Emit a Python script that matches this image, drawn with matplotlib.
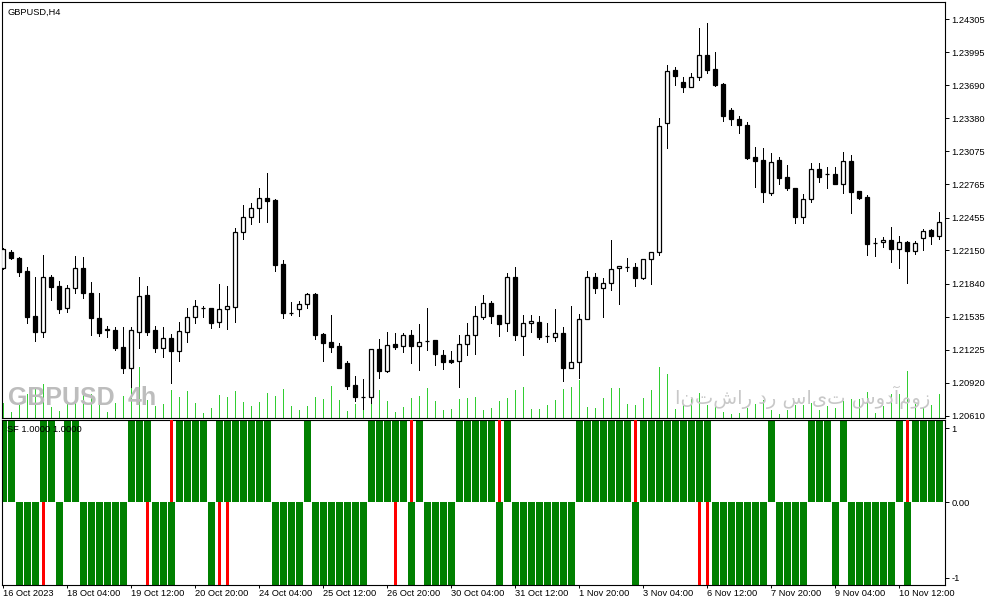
import matplotlib.pyplot as plt
import numpy as np

plt.rcParams['font.family'] = ['Liberation Sans', 'DejaVu Sans']

# GBPUSD H4 candles (one per 4 hours)
opens = [1.21984, 1.22139, 1.22077, 1.21959, 1.21540, 1.21394, 1.21900, 1.21819, 1.21612, 1.21798,
         1.21984, 1.21751, 1.21519, 1.21416, 1.21410, 1.21254, 1.21053, 1.21394, 1.21736, 1.21410,
         1.21239, 1.21338, 1.21217, 1.21388, 1.21528, 1.21617, 1.21612, 1.21481, 1.21602, 1.21627,
         1.22325, 1.22465, 1.22543, 1.22636, 1.22620, 1.22024, 1.21571, 1.21602, 1.21649, 1.21745,
         1.21372, 1.21301, 1.21261, 1.21100, 1.20898, 1.20783, 1.20783, 1.21230, 1.21031, 1.21279,
         1.21261, 1.21360, 1.21264, 1.21304, 1.21317, 1.21177, 1.21130, 1.21124, 1.21277, 1.21366,
         1.21534, 1.21658, 1.21549, 1.21472, 1.21900, 1.21357, 1.21472, 1.21481, 1.21351, 1.21347,
         1.21379, 1.21059, 1.21115, 1.21509, 1.21900, 1.21804, 1.21844, 1.21984, 1.21999, 1.21993,
         1.21897, 1.22068, 1.22133, 1.23334, 1.23830, 1.23716, 1.23675, 1.23762, 1.23970, 1.23837,
         1.23700, 1.23458, 1.23374, 1.23318, 1.23018, 1.22992, 1.22688, 1.22992, 1.22831, 1.22729,
         1.22459, 1.22627, 1.22906, 1.22862, 1.22862, 1.22766, 1.22986, 1.22704, 1.22645, 1.22222,
         1.22226, 1.22248, 1.22161, 1.22226, 1.22148, 1.22263, 1.22341, 1.22288]
highs = [1.22176, 1.22155, 1.22087, 1.21999, 1.21906, 1.22108, 1.21922, 1.21866, 1.21829, 1.22099,
         1.22087, 1.21859, 1.21751, 1.21447, 1.21440, 1.21440, 1.21440, 1.21900, 1.21819, 1.21447,
         1.21440, 1.21372, 1.21487, 1.21612, 1.21689, 1.21633, 1.21615, 1.21838, 1.21819, 1.22357,
         1.22573, 1.22592, 1.22729, 1.22874, 1.22629, 1.22061, 1.21668, 1.21680, 1.21751, 1.21751,
         1.21385, 1.21549, 1.21286, 1.21124, 1.20981, 1.20954, 1.21230, 1.21326, 1.21388, 1.21379,
         1.21379, 1.21410, 1.21466, 1.21617, 1.21317, 1.21223, 1.21214, 1.21363, 1.21478, 1.21633,
         1.21736, 1.21680, 1.21549, 1.21938, 1.21993, 1.21549, 1.21549, 1.21540, 1.21472, 1.21605,
         1.21435, 1.21633, 1.21559, 1.21959, 1.21938, 1.21891, 1.22248, 1.22006, 1.22077, 1.22031,
         1.22068, 1.22133, 1.23381, 1.23877, 1.23861, 1.23762, 1.23800, 1.24219, 1.24265, 1.23995,
         1.23706, 1.23474, 1.23402, 1.23349, 1.23111, 1.23101, 1.23055, 1.23018, 1.22946, 1.22729,
         1.22676, 1.22967, 1.22967, 1.22924, 1.22924, 1.23064, 1.23039, 1.22704, 1.22667, 1.22263,
         1.22278, 1.22366, 1.22288, 1.22238, 1.22238, 1.22347, 1.22350, 1.22511]
lows = [1.21978, 1.22068, 1.21915, 1.21478, 1.21310, 1.21347, 1.21689, 1.21571, 1.21580, 1.21757,
        1.21705, 1.21363, 1.21354, 1.21347, 1.21223, 1.21007, 1.20882, 1.21239, 1.21363, 1.21208,
        1.21161, 1.20919, 1.21124, 1.21301, 1.21478, 1.21534, 1.21426, 1.21440, 1.21416, 1.21487,
        1.22254, 1.22397, 1.22418, 1.22418, 1.21962, 1.21519, 1.21549, 1.21540, 1.21617, 1.21323,
        1.21124, 1.21208, 1.21059, 1.20860, 1.20751, 1.20674, 1.20733, 1.20966, 1.21021, 1.21233,
        1.21208, 1.21105, 1.21037, 1.21223, 1.21084, 1.21047, 1.21100, 1.20882, 1.21177, 1.21186,
        1.21512, 1.21478, 1.21357, 1.21403, 1.21317, 1.21177, 1.21394, 1.21326, 1.21301, 1.21310,
        1.20938, 1.21059, 1.20966, 1.21509, 1.21757, 1.21534, 1.21782, 1.21652, 1.21962, 1.21822,
        1.21885, 1.21838, 1.22108, 1.23105, 1.23691, 1.23628, 1.23669, 1.23737, 1.23805, 1.23684,
        1.23358, 1.23318, 1.23247, 1.22999, 1.22738, 1.22604, 1.22667, 1.22766, 1.22713, 1.22403,
        1.22409, 1.22604, 1.22790, 1.22729, 1.22766, 1.22682, 1.22502, 1.22627, 1.22108, 1.22101,
        1.22180, 1.22046, 1.21990, 1.21850, 1.22114, 1.22155, 1.22210, 1.22257]
closes = [1.22161, 1.22077, 1.21953, 1.21534, 1.21394, 1.21900, 1.21813, 1.21605, 1.21798, 1.21984,
          1.21751, 1.21519, 1.21385, 1.21412, 1.21245, 1.21053, 1.21410, 1.21726, 1.21394, 1.21245,
          1.21338, 1.21217, 1.21400, 1.21534, 1.21633, 1.21612, 1.21478, 1.21602, 1.21633, 1.22325,
          1.22459, 1.22543, 1.22636, 1.22611, 1.22015, 1.21571, 1.21568, 1.21649, 1.21742, 1.21363,
          1.21291, 1.21254, 1.21059, 1.20891, 1.20783, 1.20786, 1.21230, 1.21031, 1.21267, 1.21254,
          1.21360, 1.21264, 1.21295, 1.21307, 1.21186, 1.21115, 1.21115, 1.21277, 1.21360, 1.21537,
          1.21658, 1.21543, 1.21466, 1.21900, 1.21363, 1.21472, 1.21493, 1.21347, 1.21349, 1.21379,
          1.21059, 1.21115, 1.21509, 1.21900, 1.21804, 1.21844, 1.21975, 1.22006, 1.21997, 1.21897,
          1.22068, 1.22133, 1.23312, 1.23824, 1.23774, 1.23675, 1.23768, 1.23970, 1.23830, 1.23691,
          1.23405, 1.23371, 1.23318, 1.23014, 1.22986, 1.22697, 1.22971, 1.22828, 1.22735, 1.22465,
          1.22627, 1.22906, 1.22837, 1.22860, 1.22766, 1.22986, 1.22697, 1.22641, 1.22208, 1.22220,
          1.22248, 1.22161, 1.22226, 1.22148, 1.22217, 1.22334, 1.22288, 1.22418]
volumes = [2940, 1200, 2600, 4740, 5940, 6800, 2140, 1400, 3260, 5600,
           5140, 4800, 3600, 1200, 2940, 4400, 5940, 10260, 3600, 2400,
           2800, 5600, 4260, 5400, 3060, 940, 1940, 4600, 4260, 5400,
           3260, 2400, 3260, 5060, 4400, 5800, 2400, 1600, 2400, 4260,
           3800, 6400, 3600, 1460, 2800, 1800, 2940, 5600, 3400, 1260,
           2140, 4000, 4400, 6000, 3400, 1600, 1800, 3800, 4000, 4200,
           1600, 2000, 3400, 4000, 5600, 6200, 1800, 1800, 2600, 3600,
           5800, 6200, 7600, 2200, 2000, 4000, 6000, 6000, 2800, 2600,
           4000, 5600, 10260, 8800, 1800, 2600, 3800, 5000, 2600, 3060,
           1200, 740, 1000, 2000, 2800, 3600, 1600, 800, 1600, 2600,
           2600, 2940, 1600, 2400, 2000, 3400, 3800, 3800, 5140, 940,
           2400, 4800, 4800, 9400, 2800, 2000, 2600, 4800]

# SF indicator: main histogram and the red marks
sf_main = [1, 1, -1, -1, -1, 1, 1, -1, 1, 1,
           -1, -1, -1, -1, -1, -1, 1, 1, 1, -1,
           -1, -1, 1, 1, 1, 1, -1, 1, 1, 1,
           1, 1, 1, 1, -1, -1, -1, -1, 1, -1,
           -1, -1, -1, -1, -1, -1, 1, 1, 1, 1,
           1, -1, 1, -1, -1, -1, -1, 1, 1, 1,
           1, 1, -1, 1, -1, -1, -1, -1, -1, -1,
           -1, -1, 1, 1, 1, 1, 1, 1, 1, -1,
           1, 1, 1, 1, 1, 1, 1, 1, 1, -1,
           -1, -1, -1, -1, -1, -1, 1, -1, -1, -1,
           -1, 1, 1, 1, -1, 1, -1, -1, -1, -1,
           -1, -1, 1, -1, 1, 1, 1, 1]
sf_red = {5: -1, 18: -1, 21: 1, 27: -1, 28: -1, 49: -1, 51: 1,
          62: 1, 79: 1, 87: -1, 88: -1, 113: 1}

date_labels = ['16 Oct 2023', '18 Oct 04:00', '19 Oct 12:00', '20 Oct 20:00',
               '24 Oct 04:00', '25 Oct 12:00', '26 Oct 20:00', '30 Oct 04:00',
               '31 Oct 12:00', '1 Nov 20:00', '3 Nov 04:00', '6 Nov 12:00',
               '7 Nov 20:00', '9 Nov 04:00', '10 Nov 12:00']
price_ticks = [1.24305, 1.23995, 1.23690, 1.23380, 1.23075, 1.22765, 1.22455,
               1.22150, 1.21840, 1.21535, 1.21225, 1.20920, 1.20610]

n = len(opens)
x = np.arange(n)
o = np.array(opens)
c = np.array(closes)
ymin, ymax = 1.20590, 1.24459

fig = plt.figure(figsize=(9.91, 6.05), dpi=100)
ax = fig.add_axes([0.00252, 0.30909, 0.95156, 0.68678])
ax2 = fig.add_axes([0.00252, 0.03388, 0.95156, 0.27190], sharex=ax)

# volumes at the bottom of the price window
vol = np.array(volumes)
vscale = (ymax - ymin) * 51.3 / 415.5 / vol.max()
ax.vlines(x, ymin, ymin + vol * vscale, color='#32cd32', lw=0.72,
          antialiased=False, zorder=1)

# candles
ax.vlines(x, lows, highs, color='black', lw=0.72, antialiased=False, zorder=2)
body_lo = np.minimum(o, c)
body_h = np.abs(c - o)
faces = ['white' if cl >= op else 'black' for op, cl in zip(o, c)]
ax.bar(x, body_h, bottom=body_lo, width=0.5, color=faces,
       edgecolor='black', linewidth=0.9, zorder=3)

ax.set_xlim(-0.1, 117.78)
ax.set_ylim(ymin, ymax)
ax.yaxis.tick_right()
ax.set_yticks(price_ticks)
ax.set_yticklabels([f'{v:.5f}' for v in price_ticks])
ax.tick_params(axis='y', direction='out', length=3, width=0.7, pad=1.5, labelsize=6.7)
ax.tick_params(axis='x', bottom=False, labelbottom=False)

# SF panel
ax2.bar(x, sf_main, width=0.875, color='#008000', zorder=2)
red_x = list(sf_red.keys())
red_v = list(sf_red.values())
ax2.bar(red_x, red_v, width=0.375, color='#ff0000', zorder=3)
ax2.set_ylim(-1, 1)
ax2.yaxis.tick_right()
ax2.set_yticks([0.9, 0, -0.92])
ax2.set_yticklabels(['1', '0.00', '-1'])
ax2.tick_params(axis='y', direction='out', length=3, width=0.7, pad=1.5, labelsize=6.7)
ax2.set_xticks(np.arange(0, n, 8))
ax2.set_xticklabels(date_labels)
ax2.tick_params(axis='x', direction='out', length=2.5, width=0.7, pad=1, labelsize=6.7)
for lab in ax2.get_xticklabels():
    lab.set_horizontalalignment('left')

for a in (ax, ax2):
    for s in a.spines.values():
        s.set_linewidth(0.8)
        s.set_color('black')

# texts
fig.text(7 / 991, 1 - 12 / 605, 'GBPUSD,H4', fontsize=6.7, va='center', ha='left')
fig.text(7 / 991, 1 - 429.5 / 605, 'SF 1.0000 1.0000', fontsize=6.7, va='center', ha='left', zorder=5)
wm = dict(fontsize=18, fontweight='bold', color='#bdbdbd', va='center', ha='left',
          family=['Liberation Sans Narrow', 'Liberation Sans'])
fig.text(8 / 991, 1 - 398 / 605, 'GBPUSD', **wm)
fig.text(128 / 991, 1 - 398 / 605, '4h', **wm)
fig.text(930 / 991, 1 - 397 / 605, 'انتشار در سایت سودآموز', fontsize=14, color='#c8c8c8',
         va='center', ha='right', family=['DejaVu Sans'])

fig.savefig('out.png', dpi=100, facecolor='white')
